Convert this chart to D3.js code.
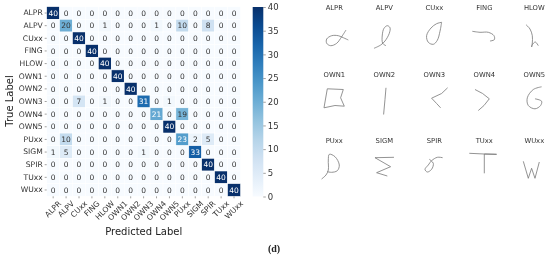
<!DOCTYPE html>
<html lang="en">

<head>
    <meta charset="UTF-8">
    <title>confusion matrix</title>
    <style>
        body { margin: 0; background: #fff; }
        svg { display: block; font-family: "DejaVu Sans", sans-serif; filter: blur(0.3px); }
        .domain { display: none; }
    </style>
</head>

<body>
    <svg></svg>
    <script src="https://d3js.org/d3.v7.min.js"></script>

    <script>
        var labels = ['ALPR', 'ALPV', 'CUxx', 'FING', 'HLOW', 'OWN1', 'OWN2', 'OWN3', 'OWN4', 'OWN5', 'PUxx', 'SIGM', 'SPIR', 'TUxx', 'WUxx'];

        var rowALPR = [40, 0, 0, 0, 0, 0, 0, 0, 0, 0, 0, 0, 0, 0, 0];
        var rowALPV = [0, 20, 0, 0, 1, 0, 0, 0, 1, 0, 10, 0, 8, 0, 0];
        var rowCUxx = [0, 0, 40, 0, 0, 0, 0, 0, 0, 0, 0, 0, 0, 0, 0];
        var rowFING = [0, 0, 0, 40, 0, 0, 0, 0, 0, 0, 0, 0, 0, 0, 0];
        var rowHLOW = [0, 0, 0, 0, 40, 0, 0, 0, 0, 0, 0, 0, 0, 0, 0];
        var rowOWN1 = [0, 0, 0, 0, 0, 40, 0, 0, 0, 0, 0, 0, 0, 0, 0];
        var rowOWN2 = [0, 0, 0, 0, 0, 0, 40, 0, 0, 0, 0, 0, 0, 0, 0];
        var rowOWN3 = [0, 0, 7, 0, 1, 0, 0, 31, 0, 1, 0, 0, 0, 0, 0];
        var rowOWN4 = [0, 0, 0, 0, 0, 0, 0, 0, 21, 0, 19, 0, 0, 0, 0];
        var rowOWN5 = [0, 0, 0, 0, 0, 0, 0, 0, 0, 40, 0, 0, 0, 0, 0];
        var rowPUxx = [0, 10, 0, 0, 0, 0, 0, 0, 0, 0, 23, 2, 5, 0, 0];
        var rowSIGM = [1, 5, 0, 0, 0, 0, 0, 1, 0, 0, 0, 33, 0, 0, 0];
        var rowSPIR = [0, 0, 0, 0, 0, 0, 0, 0, 0, 0, 0, 0, 40, 0, 0];
        var rowTUxx = [0, 0, 0, 0, 0, 0, 0, 0, 0, 0, 0, 0, 0, 40, 0];
        var rowWUxx = [0, 0, 0, 0, 0, 0, 0, 0, 0, 0, 0, 0, 0, 0, 40];
        var matrix = [rowALPR, rowALPV, rowCUxx, rowFING, rowHLOW, rowOWN1, rowOWN2, rowOWN3, rowOWN4, rowOWN5, rowPUxx, rowSIGM, rowSPIR, rowTUxx, rowWUxx];

        var colorTicks = [0, 5, 10, 15, 20, 25, 30, 35, 40];

        // handwritten samples, relative to each panel title
        var penALPR = [[11.7, 22], [7.4, 28.7], [2.4, 35.3], [-3.6, 37.7], [-7.6, 35.3], [-7.6, 31], [-2.6, 27.7], [4, 27.7], [9, 29.7], [14, 32]];
        var penALPV = [[-10.3, 40.3], [-3.6, 37], [0.7, 33], [5, 25.3], [5.7, 19.7], [3, 17.7], [-0.3, 20.3], [-2, 27], [-1.6, 35.3], [1.7, 37.7]];
        var penCUxx = [[7.3, 14.3], [2.3, 15.7], [-3.3, 20], [-7.7, 27.7], [-6, 34.3], [-1, 36.3], [3, 32.3], [5.7, 23.3], [7.3, 14.3]];
        var penFING = [[-12, 23.3], [-4.3, 24.3], [4, 24.3], [9.7, 27.7], [10, 31.7], [5.7, 33]];
        var penHLOW = [[-8.3, 16.7], [-4.3, 21], [-2, 27.7], [-2, 35], [-2.7, 39], [-2, 36.7], [1, 34], [4, 37.7]];
        var penOWN1 = [[-7, 14.3], [9, 15], [6.3, 23.3], [10, 31.7], [0.7, 31], [-10.3, 33.3], [-7, 14.3]];
        var penOWN2 = [[1.7, 13.3], [0.7, 25], [-0.7, 40]];
        var penOWN3 = [[13.3, 13.3], [7.3, 19], [-2.7, 23.7], [2.3, 29], [6.3, 33.3]];
        var penOWN4 = [[-9.3, 15], [-1.7, 19], [5, 24.3], [-0.3, 31], [-6, 36]];
        var penOWN5 = [[7.3, 12.3], [-1, 15], [-7, 23.3], [-6, 31], [0.7, 34.3], [6.3, 31], [7.3, 26.7], [0.7, 24.3]];
        var penPUxx = [[-12.7, 38], [-8.3, 34], [-6, 29], [-6, 19], [-5, 13.3], [0.7, 15.7], [5, 24], [3, 29.7], [-2.7, 31.3], [-7, 30.7]];
        var penSIGM = [[9.7, 16.3], [-9.3, 16.7], [6.3, 25.7], [-7.7, 31.7], [3, 35]];
        var penSPIR = [[8.3, 16.7], [3, 16.3], [-2.7, 19.7], [-6, 24], [-9.3, 28.3], [-7, 31], [-2.7, 28.3], [-1, 22.3], [-5, 18.3]];
        var penTUxx = [[-15, 12.3], [0, 13], [12.3, 13.3], [0, 13], [0, 32.3]];
        var penWUxx = [[-11, 20.3], [-6, 37.3], [-2.7, 27.3], [0.7, 37.3], [5, 21]];
        var pens = [penALPR, penALPV, penCUxx, penFING, penHLOW, penOWN1, penOWN2, penOWN3, penOWN4, penOWN5, penPUxx, penSIGM, penSPIR, penTUxx, penWUxx];

        // these ones have hard corners, the rest are smooth
        var cornered = ['OWN1', 'OWN2', 'OWN3', 'OWN4', 'SIGM', 'TUxx', 'WUxx'];

        var svgWidth = 550,
            svgHeight = 258;
        var svg = d3.select('svg')
            .attr('width', svgWidth)
            .attr('height', svgHeight);

        var x = d3.scaleBand().domain(labels).range([46.7, 240.5]);
        var y = d3.scaleBand().domain(labels).range([6.7, 196.3]);
        var color = d3.scaleSequential(d3.interpolateBlues).domain([0, 40]);

        // cells
        var cells = [];
        matrix.forEach((row, r) => row.forEach((v, c) => cells.push({ r: labels[r], c: labels[c], v: v })));

        svg.selectAll('rect.cell').data(cells).enter().append('rect')
            .attr('class', 'cell')
            .attr('x', d => x(d.c))
            .attr('y', d => y(d.r))
            .attr('width', x.bandwidth())
            .attr('height', y.bandwidth())
            .attr('fill', d => color(d.v))
            .attr('stroke', '#fff')
            .attr('stroke-width', 0.5);

        svg.selectAll('text.val').data(cells).enter().append('text')
            .attr('class', 'val')
            .attr('x', d => x(d.c) + x.bandwidth() / 2)
            .attr('y', d => y(d.r) + y.bandwidth() / 2)
            .attr('dy', '0.36em')
            .attr('text-anchor', 'middle')
            .attr('font-size', 7.5)
            .attr('fill', d => d.v > 20 ? '#fff' : '#333')
            .text(d => d.v);

        // axes
        var yAxis = svg.append('g')
            .attr('transform', 'translate(46.7,0)')
            .call(d3.axisLeft(y).tickSize(2).tickPadding(2));
        yAxis.selectAll('text').attr('font-size', 7.6).attr('font-family', 'DejaVu Sans').attr('fill', '#333');
        yAxis.selectAll('line').attr('stroke', '#444').attr('stroke-width', 0.5);

        var xAxis = svg.append('g')
            .attr('transform', 'translate(0,196.3)')
            .call(d3.axisBottom(x).tickSize(2).tickPadding(2));
        xAxis.selectAll('line').attr('stroke', '#444').attr('stroke-width', 0.5);
        xAxis.selectAll('text')
            .attr('font-size', 7.6)
            .attr('font-family', 'DejaVu Sans')
            .attr('fill', '#333')
            .attr('text-anchor', 'middle')
            .attr('dy', '0.32em')
            .attr('y', 0)
            .attr('transform', function () {
                var len = this.getComputedTextLength();
                return 'translate(0,' + (3.5 + (len + 7) * 0.707 / 2) + ') rotate(-45)';
            });

        svg.append('text')
            .attr('x', 143.7).attr('y', 235)
            .attr('text-anchor', 'middle')
            .attr('font-size', 10)
            .attr('fill', '#222')
            .text('Predicted Label');

        svg.append('text')
            .attr('transform', 'translate(12.5,101) rotate(-90)')
            .attr('text-anchor', 'middle')
            .attr('font-size', 10)
            .attr('fill', '#222')
            .text('True Label');

        // colorbar
        var cbar = d3.scaleLinear().domain([0, 40]).range([196.5, 7]);
        var grad = svg.append('defs').append('linearGradient')
            .attr('id', 'cbar')
            .attr('x1', 0).attr('x2', 0).attr('y1', 1).attr('y2', 0);
        d3.range(0, 41, 4).forEach(v => {
            grad.append('stop').attr('offset', v / 40).attr('stop-color', color(v));
        });
        svg.append('rect')
            .attr('x', 252.7).attr('y', cbar(40))
            .attr('width', 10.6).attr('height', cbar(0) - cbar(40))
            .attr('fill', 'url(#cbar)');
        var cAxis = svg.append('g')
            .attr('transform', 'translate(263.3,0)')
            .call(d3.axisRight(cbar).tickValues(colorTicks).tickSize(2.5).tickPadding(2));
        cAxis.selectAll('text').attr('font-size', 8.5).attr('font-family', 'DejaVu Sans').attr('fill', '#333');
        cAxis.selectAll('line').attr('stroke', '#444').attr('stroke-width', 0.5);

        // sample panels on the right, 5 per row
        var panelX = d3.scalePoint().domain(d3.range(5)).range([334.3, 534.3]);
        var panelY = d3.scalePoint().domain(d3.range(3)).range([8, 141]);
        var penX = d3.scaleLinear().domain([-20, 20]).range([-20, 20]);
        var penY = d3.scaleLinear().domain([0, 40]).range([0, 40]);
        var smooth = d3.line().x(d => penX(d[0])).y(d => penY(d[1])).curve(d3.curveCatmullRom.alpha(0.5));
        var straight = d3.line().x(d => penX(d[0])).y(d => penY(d[1]));

        var panels = svg.selectAll('g.panel').data(labels).enter().append('g')
            .attr('class', 'panel')
            .attr('transform', (d, i) => 'translate(' + panelX(i % 5) + ',' + panelY(Math.floor(i / 5)) + ')');
        panels.append('text')
            .attr('text-anchor', 'middle')
            .attr('dy', '0.36em')
            .attr('font-size', 6.8)
            .attr('fill', '#333')
            .text(d => d);
        panels.append('path')
            .attr('d', (d, i) => cornered.includes(d) ? straight(pens[i]) : smooth(pens[i]))
            .attr('fill', 'none')
            .attr('stroke', '#777')
            .attr('stroke-width', 0.8);

        svg.append('text')
            .attr('x', 274).attr('y', 252)
            .attr('text-anchor', 'middle')
            .attr('font-family', 'Liberation Serif')
            .attr('font-weight', 'bold')
            .attr('font-size', 10)
            .attr('fill', '#222')
            .text('(d)');
    </script>

</body>

</html>
